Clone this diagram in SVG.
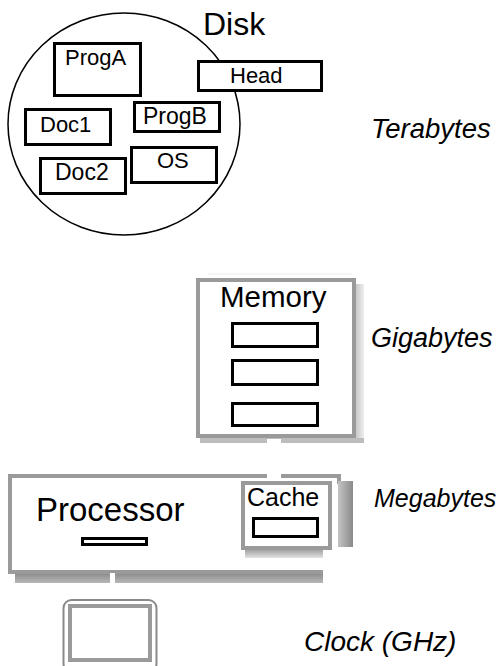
<svg xmlns="http://www.w3.org/2000/svg" width="499" height="666" viewBox="0 0 499 666">
  <style>
    .lbl { font-family: "Liberation Sans", Arial, sans-serif; fill: #000; }
    .side { font-family: "Liberation Sans", Arial, sans-serif; font-style: italic; fill: #000; }
    .blk { fill: #fff; stroke: #000; stroke-width: 3; }
    .gry { fill: #fff; stroke: #9a9a9a; stroke-width: 4; }
    .wire { stroke: #fff; fill: none; }
  </style>
  <defs>
    <linearGradient id="shadeR" x1="0" y1="0" x2="1" y2="0">
      <stop offset="0" stop-color="#c4c4c4"/>
      <stop offset="1" stop-color="#8a8a8a"/>
    </linearGradient>
    <linearGradient id="shadeD" x1="0" y1="0" x2="0" y2="1">
      <stop offset="0" stop-color="#8e8e8e"/>
      <stop offset="1" stop-color="#b8b8b8"/>
    </linearGradient>
    <linearGradient id="shadeSoft" x1="0" y1="0" x2="0" y2="1">
      <stop offset="0" stop-color="#9c9c9c"/>
      <stop offset="1" stop-color="#e2e2e2"/>
    </linearGradient>
    <linearGradient id="shadeLight" x1="0" y1="0" x2="1" y2="0">
      <stop offset="0" stop-color="#c8c8c8"/>
      <stop offset="1" stop-color="#efefef"/>
    </linearGradient>
  </defs>

  <!-- Disk -->
  <g id="disk">
    <ellipse cx="124" cy="124" rx="116" ry="111" fill="#fff" stroke="#000" stroke-width="1.5"/>
    <text class="lbl" x="203" y="35" font-size="32">Disk</text>
  </g>
  <g id="head">
    <rect class="blk" x="198.5" y="61.5" width="123" height="29"/>
    <text class="lbl" x="230" y="83" font-size="22">Head</text>
  </g>
  <g id="progA">
    <rect class="blk" x="54.5" y="43.5" width="86" height="52"/>
    <text class="lbl" x="65" y="65" font-size="22">ProgA</text>
  </g>
  <g id="doc1">
    <rect class="blk" x="25.5" y="109.5" width="85" height="35"/>
    <text class="lbl" x="40" y="132" font-size="22">Doc1</text>
  </g>
  <g id="progB">
    <rect class="blk" x="134.5" y="102.5" width="85" height="29"/>
    <text class="lbl" x="143" y="124" font-size="23">ProgB</text>
  </g>
  <g id="doc2">
    <rect class="blk" x="40.5" y="158.5" width="85" height="35"/>
    <text class="lbl" x="55" y="180" font-size="23">Doc2</text>
  </g>
  <g id="os">
    <rect class="blk" x="131.5" y="147.5" width="85" height="35"/>
    <text class="lbl" x="157" y="168" font-size="22">OS</text>
  </g>

  <!-- Memory -->
  <g id="memory">
    <line x1="208" y1="274" x2="352" y2="274" stroke="#ececec" stroke-width="1"/>
    <rect x="356" y="284" width="8" height="156" fill="url(#shadeLight)"/>
    <rect x="200" y="438" width="164" height="5" fill="#bdbdbd"/>
    <rect class="gry" x="198" y="280" width="156" height="156"/>
    <text class="lbl" x="220" y="307" font-size="29.5">Memory</text>
    <rect class="blk" x="232.5" y="323.5" width="85" height="23"/>
    <rect class="blk" x="232.5" y="360.5" width="85" height="24"/>
    <rect class="blk" x="232.5" y="403.5" width="85" height="22"/>
  </g>

  <!-- Processor -->
  <g id="processor">
    <rect x="15" y="574" width="308" height="9" fill="url(#shadeD)"/>
    <rect x="12" y="478" width="325" height="92" fill="#fff"/>
    <path d="M323,572 H10 V476 H339 V484" fill="none" stroke="#9a9a9a" stroke-width="4"/>
    <text class="lbl" x="36" y="521" font-size="33">Processor</text>
    <rect class="blk" x="82.5" y="538.5" width="64" height="6"/>
  </g>

  <!-- Cache -->
  <g id="cache">
    <rect x="338" y="481" width="15" height="66" fill="url(#shadeR)"/>
    <rect x="245" y="549" width="78" height="9" fill="url(#shadeSoft)"/>
    <rect class="gry" x="243" y="483" width="87" height="65"/>
    <text class="lbl" x="247" y="506" font-size="25">Cache</text>
    <rect class="blk" x="253.5" y="518.5" width="64" height="18"/>
  </g>

  <!-- Clock -->
  <g id="clock">
    <rect x="63.5" y="600" width="93" height="72" rx="8" fill="#fff" stroke="#8a8a8a" stroke-width="2"/>
    <rect x="70" y="606" width="80" height="54" fill="#fff" stroke="#9a9a9a" stroke-width="4"/>
  </g>

  <!-- Connectors -->
  <g id="connectors">
    <line class="wire" x1="274" y1="439" x2="274" y2="479" stroke-width="14"/>
    <line class="wire" x1="112.5" y1="573" x2="112.5" y2="598" stroke-width="5"/>
  </g>

  <!-- Scale labels -->
  <g id="scale">
    <text class="side" x="371" y="138" font-size="27.5">Terabytes</text>
    <text class="side" x="371" y="347" font-size="27">Gigabytes</text>
    <text class="side" x="374" y="507" font-size="25">Megabytes</text>
    <text class="side" x="304" y="651" font-size="28">Clock (GHz)</text>
  </g>
</svg>
